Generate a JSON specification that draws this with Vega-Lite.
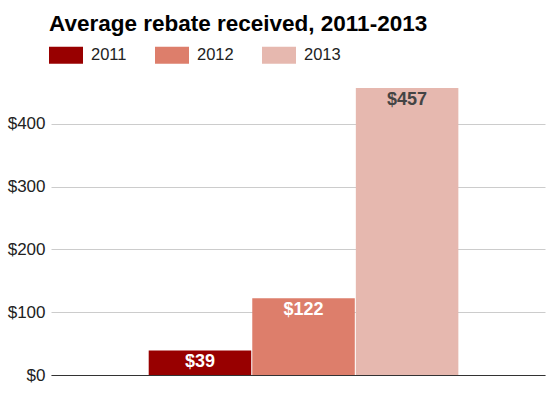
{
  "$schema": "https://vega.github.io/schema/vega-lite/v6.json",
  "autosize": {"type": "none"},
  "padding": {"left": 51, "top": 86, "right": 6, "bottom": 23},
  "width": 494,
  "height": 289,
  "background": "white",
  "title": {
    "text": "Average rebate received, 2011-2013",
    "anchor": "start",
    "frame": "group",
    "font": "Liberation Sans",
    "fontSize": 22.5,
    "fontWeight": "bold",
    "color": "#000000",
    "offset": 3,
    "dx": -2
  },
  "config": {
    "view": {"stroke": null},
    "font": "Liberation Sans"
  },
  "data": {
    "values": [
      {"year": "2011", "rebate": 39, "label": "$39"},
      {"year": "2012", "rebate": 122, "label": "$122"},
      {"year": "2013", "rebate": 457, "label": "$457"}
    ]
  },
  "encoding": {
    "x": {
      "field": "year",
      "type": "nominal",
      "scale": {"paddingInner": 0.01, "paddingOuter": 0.89, "align": 0.53},
      "axis": {"labels": false, "ticks": false, "title": null, "domainColor": "#333333", "domainWidth": 1, "grid": false}
    },
    "y": {
      "field": "rebate",
      "type": "quantitative",
      "scale": {"domain": [0, 460], "nice": false},
      "axis": {
        "values": [0, 100, 200, 300, 400],
        "format": "$.0f",
        "title": null,
        "domain": false,
        "ticks": false,
        "labelPadding": 6,
        "labelFontSize": 17,
        "labelColor": "#222222",
        "gridColor": "#cccccc"
      }
    }
  },
  "layer": [
    {
      "mark": {"type": "bar", "strokeWidth": 0},
      "encoding": {
        "color": {
          "field": "year",
          "type": "nominal",
          "scale": {"domain": ["2011", "2012", "2013"], "range": ["#980000", "#dd7e6b", "#e6b8af"]},
          "legend": {
            "title": null,
            "orient": "none",
            "legendX": -2,
            "legendY": -48,
            "direction": "horizontal",
            "symbolType": "M-1,-0.5H1V0.5H-1Z",
            "symbolSize": 1156,
            "symbolStrokeWidth": 0,
            "symbolOpacity": 1,
            "labelFontSize": 16.5,
            "labelColor": "#222222",
            "labelOffset": 8,
            "columnPadding": 28
          }
        }
      }
    },
    {
      "mark": {"type": "text", "baseline": "top", "dy": 3, "fontSize": 18, "fontWeight": "bold"},
      "encoding": {
        "text": {"field": "label"},
        "color": {
          "condition": {"test": "datum.rebate > 400", "value": "#444444"},
          "value": "#ffffff"
        }
      }
    }
  ]
}
